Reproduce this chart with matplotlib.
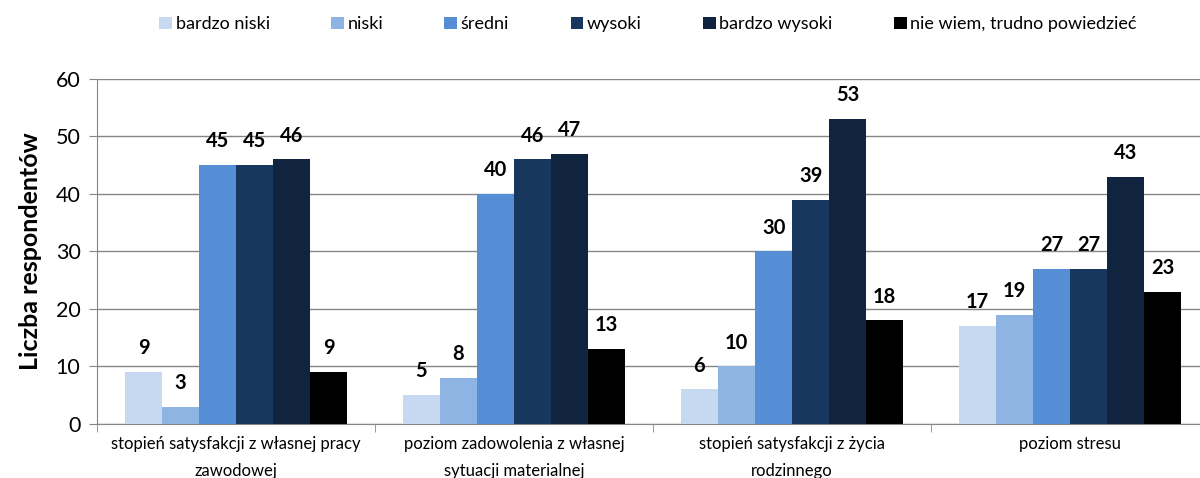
import numpy as np
import matplotlib.pyplot as plt
from matplotlib.ticker import FixedLocator, NullFormatter

plt.rcParams['font.family'] = ['Lato', 'DejaVu Sans']

# data
categories = ['stopień satysfakcji z własnej pracy\nzawodowej',
              'poziom zadowolenia z własnej\nsytuacji materialnej',
              'stopień satysfakcji z życia\nrodzinnego',
              'poziom stresu']
series = ['bardzo niski', 'niski', 'średni', 'wysoki', 'bardzo wysoki',
          'nie wiem, trudno powiedzieć']
bardzo_niski = [9, 5, 6, 17]
niski = [3, 8, 10, 19]
sredni = [45, 40, 30, 27]
wysoki = [45, 46, 39, 27]
bardzo_wysoki = [46, 47, 53, 43]
nie_wiem = [9, 13, 18, 23]
values = [bardzo_niski, niski, sredni, wysoki, bardzo_wysoki, nie_wiem]
colors = ['#C6D9F1', '#8DB4E2', '#558ED5', '#17375E', '#10243F', '#000000']

fig = plt.figure(figsize=(12, 4.78), dpi=100)
ax = fig.add_axes([0.081, 0.113, 0.9265, 0.722])

x = np.arange(len(categories))
n = len(series)
w = 0.8 / n
for i, (name, vals, c) in enumerate(zip(series, values, colors)):
    pos = x - 0.4 + w * (i + 0.5)
    bars = ax.bar(pos, vals, width=w, color=c, label=name, zorder=3)
    for b, v in zip(bars, vals):
        ax.text(b.get_x() + b.get_width() / 2, v + 2.4, str(v), ha='center',
                va='bottom', fontsize=14.5, fontweight='bold')

ax.set_xlim(-0.5, len(categories) - 0.5)
ax.set_ylim(0, 60)
ax.set_yticks(range(0, 61, 10))
ax.tick_params(axis='y', labelsize=15.5, length=6, color='#868686', pad=6)
ax.yaxis.grid(True, color='#868686', linewidth=1, zorder=0)

ax.set_xticks(x)
ax.set_xticklabels(categories, fontsize=12, linespacing=1.8)
ax.tick_params(axis='x', length=0, pad=9)
ax.xaxis.set_minor_locator(FixedLocator(np.arange(-0.5, len(categories), 1)))
ax.xaxis.set_minor_formatter(NullFormatter())
ax.tick_params(axis='x', which='minor', length=6, color='#868686')

for s in ['top', 'right']:
    ax.spines[s].set_visible(False)
for s in ['left', 'bottom']:
    ax.spines[s].set_color('#868686')

ax.set_ylabel('Liczba respondentów', fontsize=18, fontweight='bold', labelpad=10)

fig.legend(loc='upper center', bbox_to_anchor=(0.54, 1.0), ncol=6,
           frameon=False, fontsize=13, handlelength=0.7, handleheight=0.7,
           handletextpad=0.2, columnspacing=3.4)

fig.savefig('out.png', dpi=100)
